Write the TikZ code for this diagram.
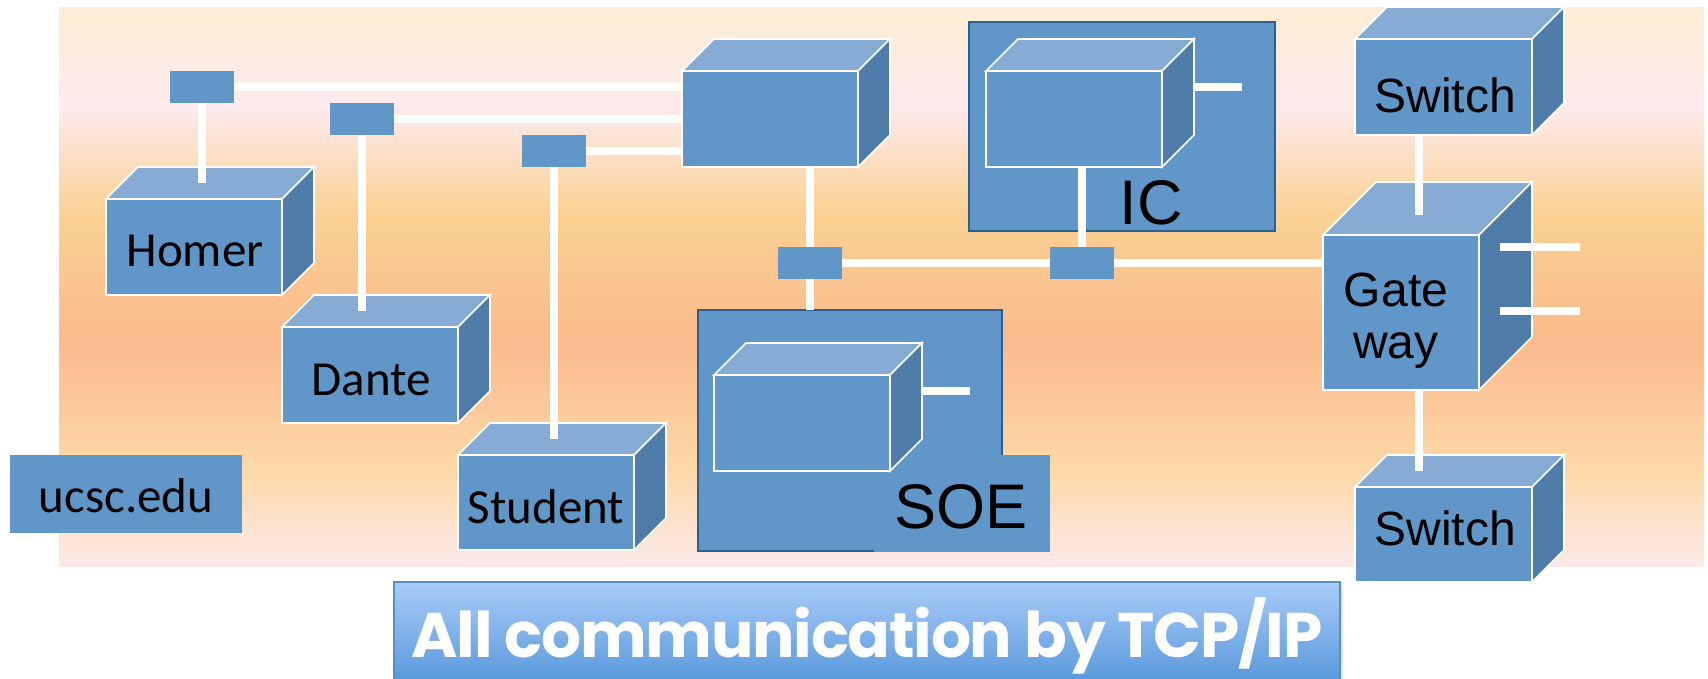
\documentclass[tikz,border=0pt]{standalone}
\usepackage{fontspec}
\setmainfont{Liberation Sans}
\newfontfamily\calfont{Carlito}
\newfontfamily\arialfont{Liberation Sans}
\newfontfamily\bannerfont[LetterSpace=-2]{Poppins}
\usetikzlibrary{calc,shadows}
\definecolor{boxfront}{HTML}{6196C8}
\definecolor{boxtop}{HTML}{86ACD5}
\definecolor{boxside}{HTML}{4F7BA9}
\definecolor{boxedge}{HTML}{2D5E90}
\definecolor{bgA}{HTML}{FCEDD5}
\definecolor{bgB}{HTML}{FDEBEE}
\definecolor{bgC}{HTML}{FAD193}
\definecolor{bgD}{HTML}{FBBA8D}
\definecolor{bgE}{HTML}{FCD9A7}
\definecolor{bgF}{HTML}{FDE9E9}
\definecolor{banTop}{HTML}{A9CCF9}
\definecolor{banBot}{HTML}{5596D9}
\definecolor{banEdge}{HTML}{5A8ECB}
\tikzset{
  face/.style={draw=white, line width=0.8pt, line join=miter},
  frontface/.style={face, fill=boxfront, inner sep=0pt, outer sep=0pt, anchor=north west},
  hub/.style={fill=boxfront, inner sep=0pt, outer sep=0pt, minimum width=32pt, minimum height=16pt, anchor=north west},
  link/.style={draw=white, line width=4pt},
  container/.style={fill=boxfront, draw=boxedge, line width=1.1pt, inner sep=0pt, outer sep=0pt, anchor=north west},
  plainbox/.style={fill=boxfront, inner sep=0pt, outer sep=0pt, anchor=north west},
  callbl/.style={inner sep=0pt, anchor=base, font=\calfont\fontsize{24.5pt}{29pt}\selectfont},
  arlbl/.style={inner sep=0pt, anchor=base, font=\arialfont\fontsize{24pt}{26pt}\selectfont},
  biglbl/.style={inner sep=0pt, anchor=base, font=\arialfont\fontsize{31.5pt}{36pt}\selectfont},
  bannerbox/.style={top color=banTop, bottom color=banBot, draw=banEdge, line width=0.8pt, inner sep=0pt, outer sep=0pt, anchor=north west,
     drop shadow={opacity=0.2, shadow xshift=1.5pt, shadow yshift=-1.5pt}},
  bannerlbl/.style={inner sep=0pt, anchor=base, text=white, font=\bannerfont\bfseries\fontsize{31.5pt}{36pt}\selectfont},
}
\newcommand{\netcube}[6]{%
  \node[frontface, minimum width=#4*0.5pt, minimum height=#5*0.5pt] (#1) at (#2,#3) {};
  \filldraw[face, fill=boxtop] (#1.north west) -- ++(#6,-#6) -- ++(#4,0) -- (#1.north east) -- cycle;
  \filldraw[face, fill=boxside] (#1.north east) -- ++(#6,-#6) -- ++(0,#5) -- (#1.south east) -- cycle;
}
\begin{document}
\begin{tikzpicture}[x=0.5pt,y=-0.5pt]
\useasboundingbox (0,0) rectangle (1708,679);
% background
\fill[top color=bgA, bottom color=bgB] (59,8) rectangle (1704,106);
\fill[top color=bgB, bottom color=bgC] (59,105) rectangle (1704,216);
\fill[top color=bgC, bottom color=bgD] (59,215) rectangle (1704,341);
\fill[top color=bgD, bottom color=bgE] (59,340) rectangle (1704,471);
\fill[top color=bgE, bottom color=bgF] (59,470) rectangle (1704,566);

% containers
\node[container, minimum width=153pt, minimum height=104.5pt] (icbox) at (969,22) {};
\node[container, minimum width=152pt, minimum height=120.5pt] (soebox) at (698,310) {};
\node[plainbox, minimum width=88pt, minimum height=48.5pt] (soetag) at (874,455) {};
\node[biglbl] (ictext) at (1151,225) {IC};
\node[biglbl] (soetext) at (961,528) {SOE};

% cubes
\netcube{homer}{106}{199}{176}{96}{32}
\netcube{dante}{282}{327}{176}{96}{32}
\netcube{student}{458}{455}{176}{95}{32}
\netcube{core}{682}{71}{176}{96}{32}
\netcube{iccube}{986}{71}{176}{96}{32}
\netcube{soecube}{714}{375}{176}{96}{32}
\netcube{sw1}{1355}{39}{177}{96}{32}
\netcube{sw2}{1355}{487}{177}{95}{32}
\netcube{gw}{1323}{235}{156}{155}{53}

\node[callbl] (homertext) at (195,267) {Homer};
\node[callbl] (dantetext) at (371,395) {Dante};
\node[callbl] (studenttext) at (546,523) {Student};
\node[arlbl] (sw1text) at (1445,113) {Switch};
\node[arlbl] (sw2text) at (1445,545) {Switch};
\node[arlbl, align=center] (gwtext) at (1396,358) {Gate\\way};

% ucsc.edu
\node[plainbox, minimum width=116pt, minimum height=39pt] (ucsc) at (10,455) {};
\node[callbl] (ucsctext) at (126,512) {ucsc.edu};

% hubs
\node[hub] (h1) at (170,71) {};
\node[hub] (h2) at (330,103) {};
\node[hub] (h3) at (522,135) {};
\node[hub] (h4) at (778,247) {};
\node[hub] (h5) at (1050,247) {};

% links
\draw[link] (h1.east) -- (h1.east -| core.west);
\draw[link] (h2.east) -- (h2.east -| core.west);
\draw[link] (h3.east) -- (h3.east -| core.west);
\draw[link] (h1.south) -- ($(h1.south |- homer.north)+(0,-16)$);
\draw[link] (h2.south) -- ($(h2.south |- dante.north)+(0,-16)$);
\draw[link] (h3.south) -- ($(h3.south |- student.north)+(0,-16)$);
\draw[link] (h4.north |- core.south) -- (h4.north);
\draw[link] (h4.south) -- (h4.south |- soebox.north);
\draw[link] (h4.east) -- (h5.west);
\draw[link] (h5.north |- iccube.south) -- (h5.north);
\draw[link] (h5.east) -- (h5.east -| gw.west);
\draw[link] ($(sw1.south west)+(64,0)$) -- ($(gw.north west)+(96,-20)$);
\draw[link] ($(gw.south west)+(96,0)$) -- ($(sw2.north west)+(64,-16)$);
\coordinate (gwa1) at ($(gw.north east)+(21,12)$);
\coordinate (gwa2) at ($(gw.north east)+(101,12)$);
\coordinate (gwb1) at ($(gw.north east)+(21,76)$);
\coordinate (gwb2) at ($(gw.north east)+(101,76)$);
\draw[link] (gwa1) -- (gwa2);
\draw[link] (gwb1) -- (gwb2);
\coordinate (icst1) at ($(iccube.north east)+(32,16)$);
\coordinate (icst2) at ($(iccube.north east)+(80,16)$);
\draw[link] (icst1) -- (icst2);
\coordinate (soest1) at ($(soecube.north east)+(32,16)$);
\coordinate (soest2) at ($(soecube.north east)+(80,16)$);
\draw[link] (soest1) -- (soest2);

% banner
\node[bannerbox, minimum width=473pt, minimum height=52pt] (banner) at (394,582) {};
\node[bannerlbl] (bannertext) at (867,657) {All communication by TCP/IP};
\end{tikzpicture}
\end{document}
